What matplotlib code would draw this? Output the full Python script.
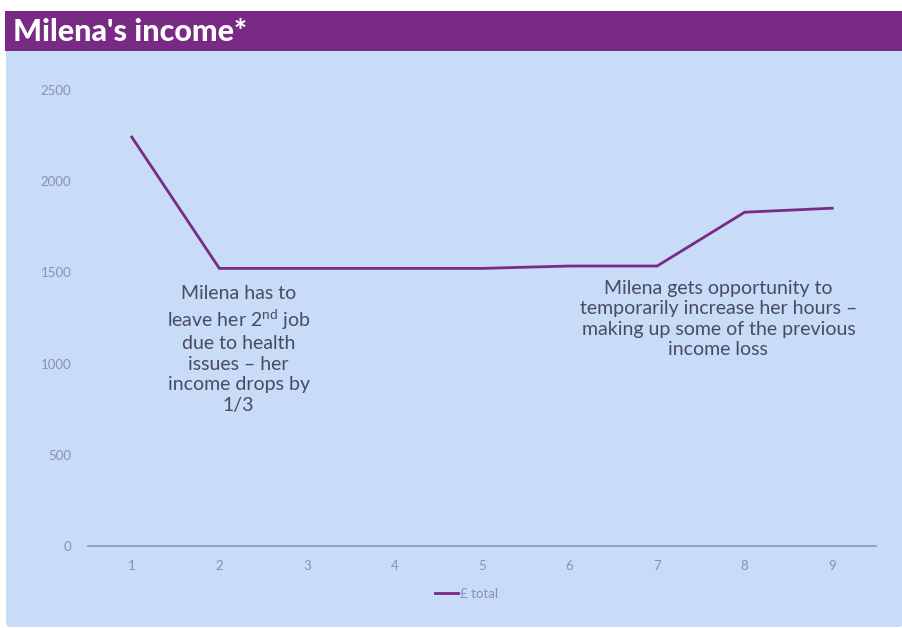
import matplotlib
matplotlib.use('Agg')
from matplotlib import pyplot as plt
from matplotlib.patches import Rectangle, FancyBboxPatch

# data
periods = [1, 2, 3, 4, 5, 6, 7, 8, 9]
income = [2242, 1522, 1522, 1522, 1522, 1535, 1535, 1830, 1852]
yticks = [0, 500, 1000, 1500, 2000, 2500]

title = "Milena's income*"
note1 = "Milena has to\nleave her 2$^{\\mathrm{nd}}$ job\ndue to health\nissues \u2013 her\nincome drops by\n1/3"
note2 = "Milena gets opportunity to\ntemporarily increase her hours \u2013\nmaking up some of the previous\nincome loss"

plt.rcParams['font.family'] = ['Lato', 'DejaVu Sans']
plt.rcParams['mathtext.fontset'] = 'custom'
plt.rcParams['mathtext.rm'] = 'Lato'

purple = '#782a84'
panel = '#c8dbf7'
tick_col = '#8a92aa'
text_col = '#474c60'

fig = plt.figure(figsize=(9.03, 6.28), dpi=100)
W, H = 903.0, 628.0

# light blue panel and purple header (behind the axes)
fig.patches.append(FancyBboxPatch((6 / W, 1 / H), 897 / W, 600 / H, boxstyle='round,pad=0,rounding_size=0.006',
                                  transform=fig.transFigure, facecolor=panel, edgecolor='none', zorder=-3))
fig.patches.append(Rectangle((5 / W, 1 - 51 / H), 898 / W, 40 / H, transform=fig.transFigure,
                             facecolor=purple, edgecolor='none', zorder=-2))
fig.text(13 / W, 1 - 32 / H, title, color='white', fontsize=22, fontweight=900, va='center', ha='left')

ax = fig.add_axes([88 / W, 1 - 546 / H, 788 / W, 456 / H])
ax.set_facecolor('none')
ax.plot(periods, income, color=purple, linewidth=2, label='\u00a3 total', solid_joinstyle='miter')
ax.set_xlim(0.5, 9.5)
ax.set_ylim(0, 2500)
ax.set_xticks(periods)
ax.set_yticks(yticks)
for s in ['top', 'right', 'left']:
    ax.spines[s].set_visible(False)
ax.spines['bottom'].set_color('#8c95ab')
ax.spines['bottom'].set_linewidth(1.2)
ax.tick_params(axis='both', length=0, labelsize=9.5, labelcolor=tick_col)
ax.tick_params(axis='y', pad=12)
ax.tick_params(axis='x', pad=10)

ax.text(2.22, 1432, note1, ha='center', va='top', fontsize=14, color=text_col, linespacing=1.25)
ax.text(7.7, 1460, note2, ha='center', va='top', fontsize=14, color=text_col, linespacing=1.25)

leg = ax.legend(loc='upper center', bbox_to_anchor=(0.48, -0.065), frameon=False, fontsize=9.5,
                handlelength=1.8, handletextpad=0.1, labelcolor=tick_col)

fig.savefig('out.png', dpi=100, facecolor='white')
